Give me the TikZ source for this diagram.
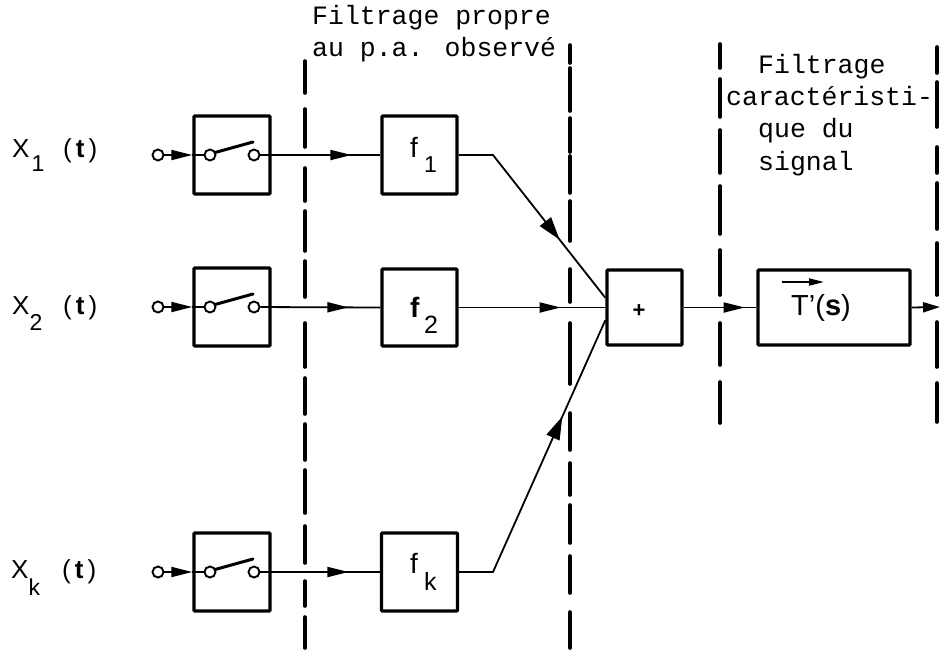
\documentclass[tikz,border=0pt]{standalone}
\usepackage{fontspec}
\setmainfont{Liberation Sans}
\newfontfamily\typew{Liberation Mono}
\usetikzlibrary{arrows.meta,decorations.markings}
\tikzset{
  blockbox/.style={draw,line width=3.4pt,rounded corners=1pt,inner sep=0pt,minimum width=#1},
  contact/.style={circle,draw,line width=1.9pt,inner sep=0pt,minimum size=11pt,fill=white},
  conn/.style={line width=1.8pt},
  sep/.style={line width=3.6pt,line cap=round},
  blade/.style={line width=3pt,line cap=round},
  typed/.style={anchor=base west,inner sep=0pt,font=\typew\fontsize{26.5}{26.5}\selectfont},
  siglabel/.style={anchor=base west,inner sep=0pt,font=\fontsize{26}{26}\selectfont},
  bigtip/.style={-{Triangle[length=21pt,width=10pt]}},
  arrowat/.style={postaction={decorate},decoration={markings,mark=at position #1 with {\arrow{Triangle[length=21pt,width=10pt]}}}},
  diagat/.style={postaction={decorate},decoration={markings,mark=at position #1 with {\arrow{Triangle[length=23pt,width=14pt]}}}}
}
\newcommand{\sigtext}[3]{\makebox[51pt][l]{X\hspace{#2}\raisebox{-#3}{\fontsize{23}{23}\selectfont #1}}(\hspace{4pt}\textbf{t}\hspace{4pt})}
\begin{document}
\begin{tikzpicture}[x=1pt,y=-1pt]
\useasboundingbox (0,0) rectangle (940,649);
% separators
\foreach \a/\b in {61/93,109/147,168/201,211/251,261/297,323/367,378/414,424/460,470/513,526/563,581/606,617/648}
  \draw[sep] (305,\a) -- (305,\b);
\foreach \a/\b in {45/63,68/111,118/152,156/193,201/241,269/302,323/384,413/450,463/495,505/543,556/593,612/648}
  \draw[sep] (570,\a) -- (570,\b);
\foreach \a/\b in {44/68,79/117,130/173,186/234,250/295,323/365,382/423}
  \draw[sep] (720,\a) -- (720,\b);
\foreach \a/\b in {47/73,82/127,147/173,183/229,243/295,322/367,383/422}
  \draw[sep] (937,\a) -- (937,\b);
% blocks
\node[blockbox=76pt,minimum height=78pt] (sw1) at (232,155) {};
\node[blockbox=76pt,minimum height=78pt] (sw2) at (232,307) {};
\node[blockbox=76pt,minimum height=78pt] (swk) at (232,572) {};
\node[blockbox=75pt,minimum height=78pt] (f1) at (419.5,155) {};
\node[blockbox=75pt,minimum height=77pt] (f2) at (419.5,307.5) {};
\node[blockbox=76pt,minimum height=78pt] (fk) at (419.5,572) {};
\node[blockbox=75pt,minimum height=75pt] (plus) at (644.5,307.5) {};
\node[blockbox=152pt,minimum height=75pt] (tf) at (834,307.5) {};
% block contents
\node[anchor=base west,inner sep=0pt,font=\fontsize{28}{28}\selectfont] (f1a) at (410,157) {f};
\node[anchor=base west,inner sep=0pt,font=\fontsize{23}{23}\selectfont] (f1b) at (424,172) {1};
\node[anchor=base west,inner sep=0pt,font=\bfseries\fontsize{28}{28}\selectfont] (f2a) at (410,317) {f};
\node[anchor=base west,inner sep=0pt,font=\fontsize{25}{25}\selectfont] (f2b) at (424,333) {2};
\node[anchor=base west,inner sep=0pt,font=\fontsize{28}{28}\selectfont] (fka) at (410,573) {f};
\node[anchor=base west,inner sep=0pt,font=\fontsize{25}{25}\selectfont] (fkb) at (424,590) {k};
\node[font=\bfseries\fontsize{22}{22}\selectfont,inner sep=0pt] (plustext) at (639,311) {+};
\node[anchor=base west,inner sep=0pt,font=\fontsize{29}{29}\selectfont] (ttext) at (791,315) {T'(\textbf{s})};
\coordinate (ta) at (782,282);
\coordinate (tb) at (824,282);
\draw[line width=1.8pt,-{Triangle[length=15pt,width=7pt]}] (ta) -- (tb);
% switches
\foreach \n/\y in {1/155,2/307,k/572}{
  \node[contact] (in\n) at (158,\y) {};
  \node[contact] (a\n) at (210,\y) {};
  \node[contact] (b\n) at (254,\y) {};
  \coordinate (tip\n) at (253,\y-13);
  \draw[blade] (a\n.25) -- (tip\n);
  \draw[conn,bigtip] (in\n) -- (sw\n.west);
  \draw[conn] (sw\n.west) -- (a\n);
}
% signal lines
\draw[conn,arrowat=91pt] (b1) -- (f1.west);
\draw[conn,arrowat=88pt] (b2) -- (f2.west);
\draw[conn,arrowat=88pt] (bk) -- (fk.west);
\coordinate (bend1) at (493,155);
\coordinate (bendk) at (493,572);
\draw[conn,diagat=142pt] (f1.east) -- (bend1) -- (plus.166);
\draw[conn,arrowat=102pt] (f2.east) -- (plus.west);
\draw[conn,diagat=204pt] (fk.east) -- (bendk) -- (plus.198);
\coordinate (out) at (940,307);
\draw[conn,arrowat=61pt] (plus.east) -- (tf.west);
\draw[conn,-{Triangle[length=17pt,width=10pt]}] (tf.east) -- (out);
% input labels
\node[siglabel] (x1) at (12,157) {\sigtext{1}{2pt}{14pt}};
\node[siglabel] (x2) at (12,314) {\sigtext{2}{0pt}{16pt}};
\node[siglabel] (xk) at (11,578) {\sigtext{k}{0pt}{17pt}};
% typed captions
\node[typed] (c1) at (312,24) {Filtrage propre};
\node[typed] (c2) at (312,56) {au p.a. observé};
\node[typed] (c3) at (758,73) {Filtrage};
\node[typed] (c4) at (726,105) {caractéristi-};
\node[typed] (c5) at (758,137) {que du};
\node[typed] (c6) at (758,170) {signal};
\end{tikzpicture}
\end{document}
